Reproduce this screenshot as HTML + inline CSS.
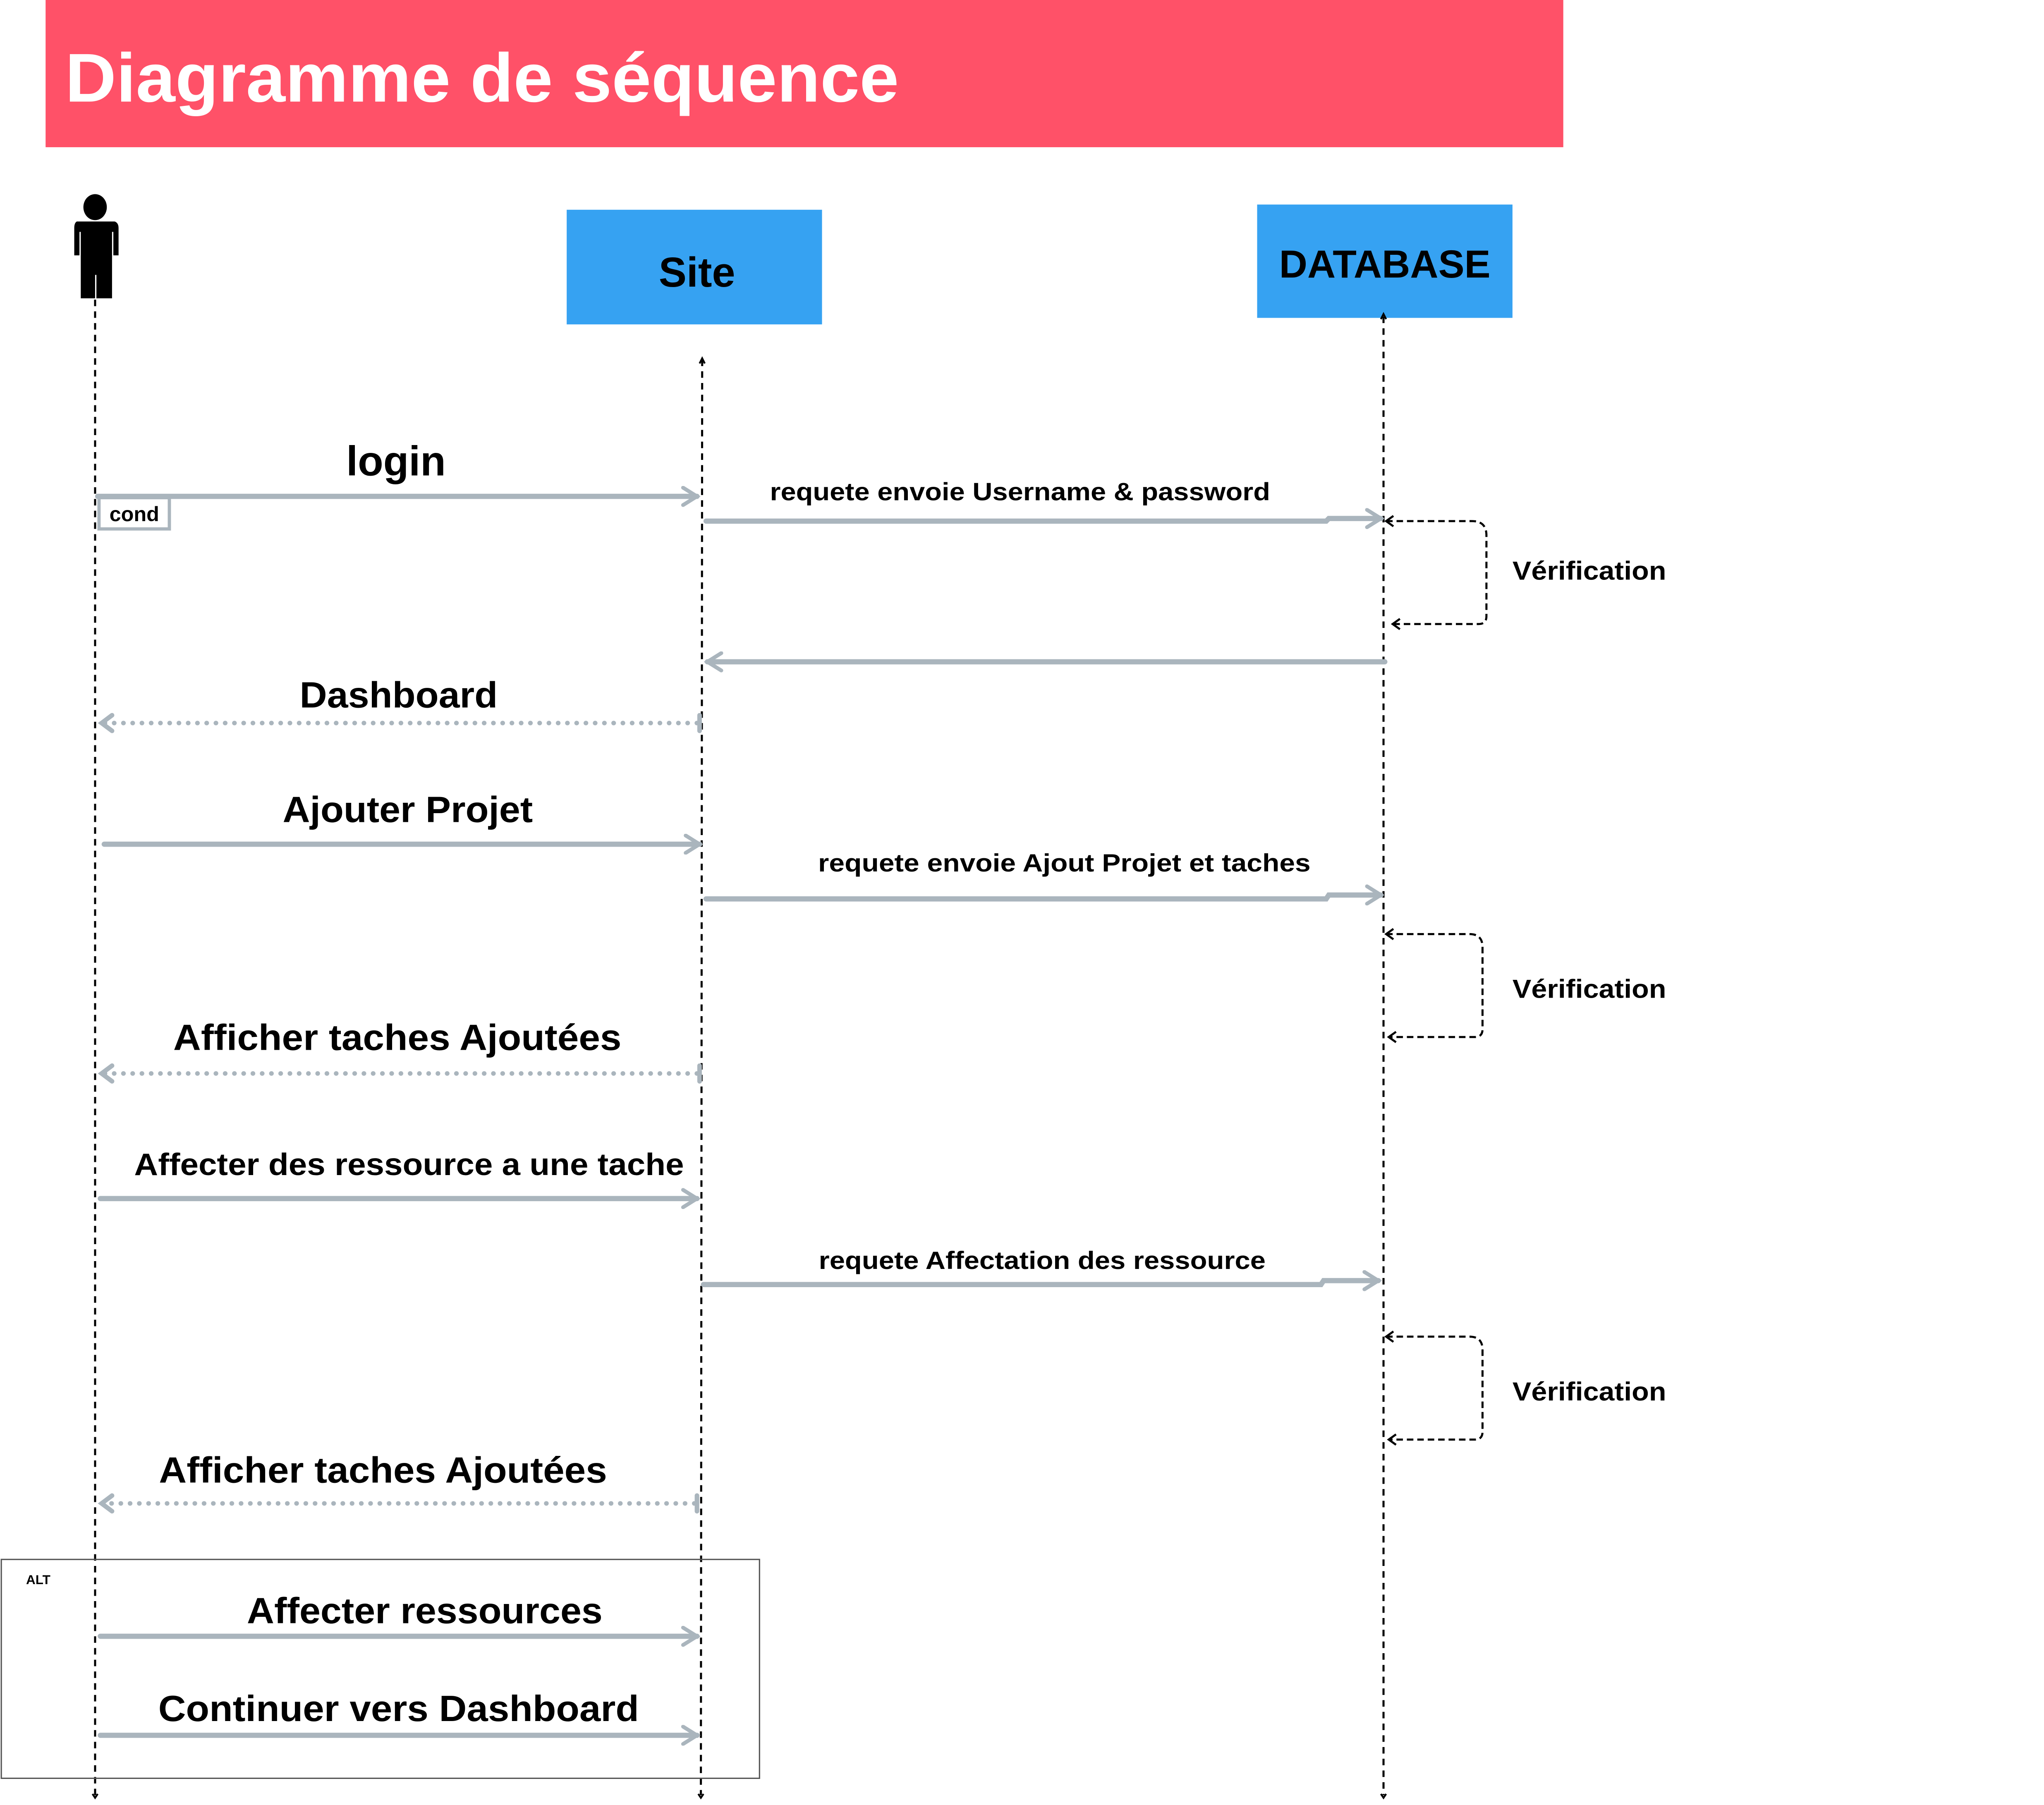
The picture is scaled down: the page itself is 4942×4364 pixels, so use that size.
<!DOCTYPE html>
<html><head><meta charset="utf-8"><style>
html,body{margin:0;padding:0;background:#fff;}
svg{display:block;}
text{font-family:"Liberation Sans",sans-serif;font-weight:bold;}
</style></head><body>
<svg width="4942" height="4364" viewBox="0 0 1569 1385.5" xmlns="http://www.w3.org/2000/svg">
<defs>
<marker id="g" viewBox="0 0 12 12" refX="10" refY="6" markerWidth="4" markerHeight="4" orient="auto" markerUnits="strokeWidth"><path d="M2 1 L10 6 L2 11" fill="none" stroke="#aab5bd" stroke-width="2.2" stroke-linecap="round"/></marker>
<marker id="k" viewBox="0 0 12 12" refX="10" refY="6" markerWidth="6" markerHeight="6" orient="auto" markerUnits="strokeWidth"><path d="M3 1 L10 6 L3 11" fill="none" stroke="#000" stroke-width="2"/></marker>
<marker id="ks" viewBox="0 0 12 12" refX="10" refY="6" markerWidth="6" markerHeight="6" orient="auto-start-reverse" markerUnits="strokeWidth"><path d="M3 1 L10 6 L3 11" fill="none" stroke="#000" stroke-width="2"/></marker>
</defs>
<rect x="0" y="0" width="1569" height="1385.5" fill="#fff"/>
<rect x="35" y="0" width="1165" height="113" fill="#ff5168"/>
<text x="50" y="78" font-size="53" fill="#fff" textLength="640" lengthAdjust="spacingAndGlyphs">Diagramme de séquence</text>

<ellipse cx="73" cy="159" rx="9" ry="10" fill="#000"/>
<path d="M59 170 H88 Q91 171 91 175 V196 H87 V178 H86 V229 H74 V211 H73 V229 H62 V178 H61 V196 H57 V175 Q57 171 59 170 Z" fill="#000"/>

<rect x="435" y="161" width="196" height="88" fill="#36a2f2"/>
<text x="535" y="220" font-size="32" text-anchor="middle">Site</text>
<rect x="965" y="157" width="196" height="87" fill="#36a2f2"/>
<text x="1063" y="213" font-size="30" text-anchor="middle">DATABASE</text>

<g stroke="#000" stroke-width="1.6" stroke-dasharray="5,4" fill="none">
<line x1="73" y1="230" x2="73" y2="1378"/>
<line x1="539" y1="276" x2="538" y2="1378"/>
<line x1="1062" y1="243" x2="1062" y2="1378"/>
</g>
<g stroke="#000" stroke-width="1.4" fill="none">
<path d="M537 279 L539 275 L541 279"/><path d="M1060 245 L1062 241 L1064 245"/>
<path d="M71 1377 L73 1380 L75 1377"/><path d="M536 1377 L538 1380 L540 1377"/><path d="M1060 1377 L1062 1380 L1064 1377"/>
</g>

<g stroke="#aab5bd" stroke-width="4" fill="none" stroke-linecap="round">
<line x1="75" y1="381" x2="535" y2="381" marker-end="url(#g)"/>
<path d="M542 400 H1018 L1020 398 H1060" marker-end="url(#g)"/>
<line x1="1063" y1="508" x2="543" y2="508" marker-end="url(#g)"/>
<line x1="80" y1="648" x2="537" y2="648" marker-end="url(#g)"/>
<path d="M542 690 H1018 L1020 687 H1060" marker-end="url(#g)"/>
<line x1="77" y1="920" x2="535" y2="920" marker-end="url(#g)"/>
<path d="M540 986 H1014 L1016 983 H1058" marker-end="url(#g)"/>
<line x1="77" y1="1256" x2="535" y2="1256" marker-end="url(#g)"/>
<line x1="77" y1="1332" x2="535" y2="1332" marker-end="url(#g)"/>
</g>
<g stroke="#aab5bd" stroke-width="3.5" fill="none" stroke-linecap="round">
<line x1="535" y1="555" x2="80" y2="555" stroke-dasharray="0.1,7"/>
<path d="M86 549 L78 555 L86 561"/><line x1="537" y1="549" x2="537" y2="561"/>
<line x1="535" y1="824" x2="80" y2="824" stroke-dasharray="0.1,7"/>
<path d="M86 818 L78 824 L86 830"/><line x1="537" y1="818" x2="537" y2="830"/>
<line x1="533" y1="1154" x2="80" y2="1154" stroke-dasharray="0.1,7"/>
<path d="M86 1148 L78 1154 L86 1160"/><line x1="535" y1="1148" x2="535" y2="1160"/>
</g>
<rect x="76" y="382" width="54" height="24" fill="#fff" stroke="#aab5bd" stroke-width="2.5"/>
<text x="84" y="400" font-size="16">cond</text>

<g stroke="#000" stroke-width="1.6" stroke-dasharray="5,3" fill="none">
<path d="M1064 400 H1130 Q1141 400 1141 411 V473 Q1141 479 1135 479 H1069" marker-start="url(#ks)" marker-end="url(#k)"/>
<path d="M1064 717 H1128 Q1138 717 1138 727 V790 Q1138 796 1132 796 H1066" marker-start="url(#ks)" marker-end="url(#k)"/>
<path d="M1064 1026 H1128 Q1138 1026 1138 1036 V1099 Q1138 1105 1132 1105 H1066" marker-start="url(#ks)" marker-end="url(#k)"/>
</g>

<g fill="#000">
<text x="304" y="365" font-size="32" text-anchor="middle">login</text>
<text x="783" y="384" font-size="19" text-anchor="middle" textLength="384" lengthAdjust="spacingAndGlyphs">requete envoie Username &amp; password</text>
<text x="1161" y="445" font-size="20" textLength="118" lengthAdjust="spacingAndGlyphs">Vérification</text>
<text x="306" y="543" font-size="28" text-anchor="middle" textLength="152" lengthAdjust="spacingAndGlyphs">Dashboard</text>
<text x="313" y="631" font-size="28" text-anchor="middle" textLength="192" lengthAdjust="spacingAndGlyphs">Ajouter Projet</text>
<text x="817" y="669" font-size="19" text-anchor="middle" textLength="378" lengthAdjust="spacingAndGlyphs">requete envoie Ajout Projet et taches</text>
<text x="1161" y="766" font-size="20" textLength="118" lengthAdjust="spacingAndGlyphs">Vérification</text>
<text x="305" y="806" font-size="28" text-anchor="middle" textLength="344" lengthAdjust="spacingAndGlyphs">Afficher taches Ajoutées</text>
<text x="314" y="902" font-size="24" text-anchor="middle" textLength="422" lengthAdjust="spacingAndGlyphs">Affecter des ressource a une tache</text>
<text x="800" y="974" font-size="19" text-anchor="middle" textLength="343" lengthAdjust="spacingAndGlyphs">requete Affectation des ressource</text>
<text x="1161" y="1075" font-size="20" textLength="118" lengthAdjust="spacingAndGlyphs">Vérification</text>
<text x="294" y="1138" font-size="28" text-anchor="middle" textLength="344" lengthAdjust="spacingAndGlyphs">Afficher taches Ajoutées</text>
<text x="326" y="1246" font-size="28" text-anchor="middle" textLength="273" lengthAdjust="spacingAndGlyphs">Affecter ressources</text>
<text x="306" y="1321" font-size="28" text-anchor="middle" textLength="369" lengthAdjust="spacingAndGlyphs">Continuer vers Dashboard</text>
</g>

<rect x="1" y="1197" width="582" height="168" fill="none" stroke="#555" stroke-width="1"/>
<text x="20" y="1216" font-size="10">ALT</text>
</svg>
</body></html>
